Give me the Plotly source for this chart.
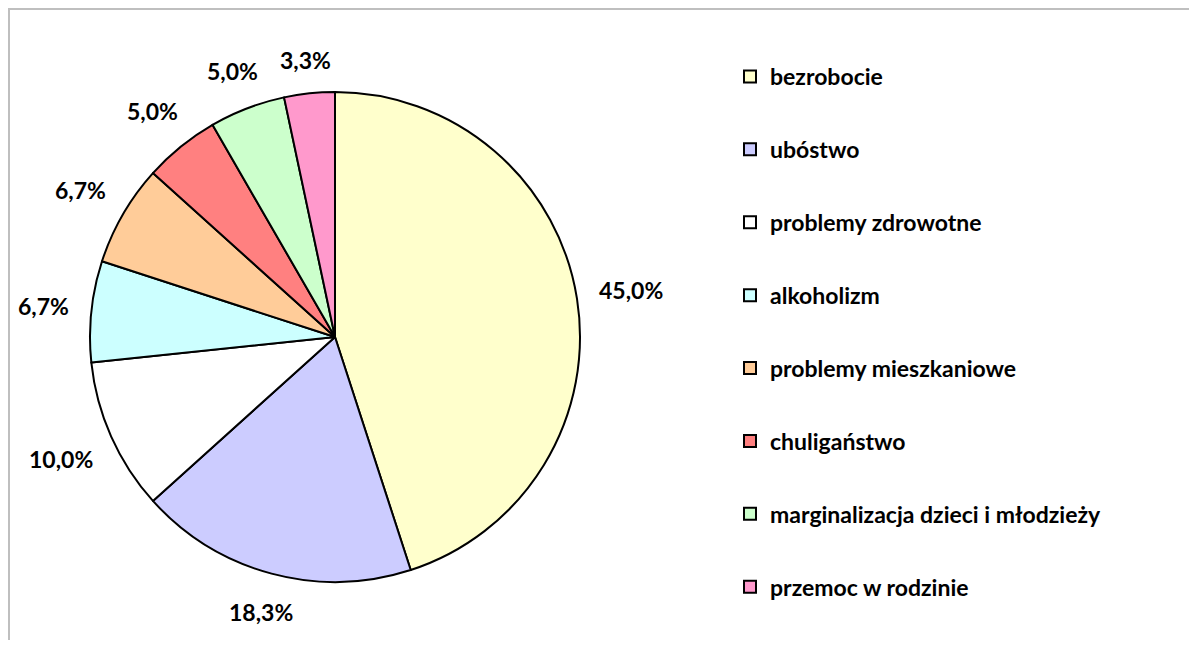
import math
import plotly.graph_objects as go

labels = ["bezrobocie", "ubóstwo", "problemy zdrowotne", "alkoholizm",
          "problemy mieszkaniowe", "chuligaństwo",
          "marginalizacja dzieci i młodzieży", "przemoc w rodzinie"]
counts = [27, 11, 6, 4, 4, 3, 3, 2]
colors = ["#FFFFCC", "#CCCCFF", "#FFFFFF", "#CCFFFF", "#FFCC99", "#FF8080", "#CCFFCC", "#FF99CC"]

W, H = 1189, 632
FONT = "Lato, Carlito, Arial, sans-serif"
FS = 23

# pie geometry (figure pixels)
CX, CY, R = 327, 329, 245
dom_x = [(CX - R) / W, (CX + R) / W]
dom_y = [1 - (CY + R) / H, 1 - (CY - R) / H]

fig = go.Figure()
fig.add_trace(go.Pie(
    labels=labels, values=counts, sort=False, direction="clockwise", rotation=0,
    marker=dict(colors=colors, line=dict(color="black", width=2)),
    textinfo="none", showlegend=False, hoverinfo="label+percent",
    domain=dict(x=dom_x, y=dom_y),
))

# percentage labels placed outside each slice around its mid-angle
total = sum(counts)
annotations = []
cum = 0
GAP = 20
for v in counts:
    frac = v / total
    theta = 2 * math.pi * (cum + frac / 2)
    cum += frac
    txt = f"{frac * 100:.1f}".replace(".", ",") + "%"
    dx, dy = math.sin(theta), -math.cos(theta)
    w, h = 13.5 * len(txt), 22
    ext = abs(dx) * w / 2 + abs(dy) * h / 2
    d = R + GAP + ext
    annotations.append(dict(
        x=(CX + dx * d) / W, y=1 - (CY + dy * d) / H, xref="paper", yref="paper",
        text=f"<b>{txt}</b>", showarrow=False, xanchor="center", yanchor="middle",
        font=dict(family=FONT, size=FS, color="black"),
    ))

for i, (lab, col) in enumerate(zip(labels, colors)):
    fig.add_trace(go.Scatter(
        x=[None], y=[None], mode="markers", name=f"<b>{lab}</b>", legendgroup=f"g{i}",
        showlegend=True,
        marker=dict(symbol="square", size=14, color=col, line=dict(color="black", width=2)),
    ))

fig.update_layout(
    width=W, height=H,
    margin=dict(l=0, r=0, t=0, b=0),
    paper_bgcolor="white", plot_bgcolor="white",
    xaxis=dict(visible=False), yaxis=dict(visible=False),
    legend=dict(x=722 / W, y=1 - 47 / H, xanchor="left", yanchor="top",
                font=dict(family=FONT, size=FS, color="black"),
                tracegroupgap=40, itemsizing="constant",
                bgcolor="rgba(0,0,0,0)"),
    annotations=annotations,
    shapes=[dict(type="rect", xref="paper", yref="paper",
                 x0=1 / W, x1=(W - 2) / W, y0=-0.2, y1=1 - 1 / H,
                 line=dict(color="#BFBFBF", width=2), fillcolor="rgba(0,0,0,0)")],
)

fig.write_html("out.html")
